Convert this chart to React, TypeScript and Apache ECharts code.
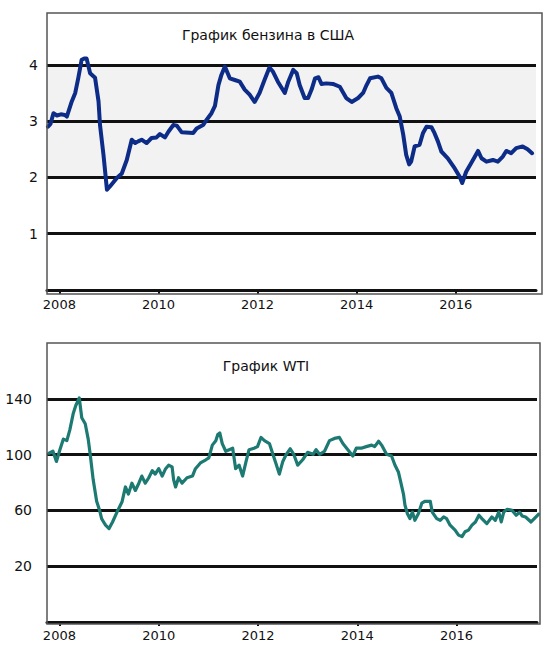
import React, { useEffect, useRef } from "react";
import * as echarts from "echarts";

// ---- Data ----
const gasYears = [
  2007.77, 2007.82, 2007.88, 2007.95, 2008.03, 2008.11, 2008.15, 2008.25, 2008.32, 2008.38,
  2008.45, 2008.5, 2008.55, 2008.62, 2008.72, 2008.79, 2008.82, 2008.89, 2008.96, 2009.02,
  2009.16, 2009.26, 2009.36, 2009.46, 2009.53, 2009.59, 2009.66, 2009.76, 2009.86, 2009.96,
  2010.03, 2010.13, 2010.2, 2010.3, 2010.37, 2010.47, 2010.7, 2010.77, 2010.9, 2010.97,
  2011.07, 2011.14, 2011.21, 2011.27, 2011.34, 2011.44, 2011.54, 2011.64, 2011.74, 2011.84,
  2011.94, 2012.04, 2012.14, 2012.24, 2012.31, 2012.41, 2012.55, 2012.62, 2012.72, 2012.79,
  2012.85, 2012.95, 2013.02, 2013.09, 2013.16, 2013.23, 2013.29, 2013.39, 2013.52, 2013.66,
  2013.79, 2013.9, 2014.03, 2014.13, 2014.2, 2014.27, 2014.43, 2014.5, 2014.6, 2014.7,
  2014.8, 2014.87, 2014.94, 2015.0, 2015.06, 2015.1, 2015.17, 2015.27, 2015.34, 2015.41,
  2015.51, 2015.57, 2015.64, 2015.71, 2015.84, 2015.98, 2016.08, 2016.13, 2016.21, 2016.31,
  2016.45, 2016.52, 2016.62, 2016.75, 2016.85, 2016.95, 2017.02, 2017.12, 2017.22, 2017.35,
  2017.45, 2017.54,
];
const gasPrices = [
  2.9, 2.95, 3.14, 3.1, 3.12, 3.11, 3.08, 3.35, 3.5, 3.76,
  4.09, 4.11, 4.11, 3.85, 3.77, 3.35, 2.93, 2.4, 1.78, 1.84,
  1.99, 2.07, 2.31, 2.67, 2.61, 2.64, 2.67, 2.61, 2.7, 2.71,
  2.77, 2.71, 2.81, 2.93, 2.92, 2.8, 2.79, 2.87, 2.93, 3.02,
  3.14, 3.27, 3.64, 3.82, 3.97, 3.76, 3.73, 3.7, 3.56, 3.47,
  3.34, 3.5, 3.73, 3.95, 3.88, 3.7, 3.5, 3.7, 3.91, 3.85,
  3.64, 3.41, 3.41, 3.56, 3.76, 3.78, 3.66, 3.67, 3.66, 3.61,
  3.41, 3.34, 3.41, 3.5, 3.64, 3.76, 3.79, 3.76, 3.59, 3.5,
  3.23, 3.08, 2.76, 2.4, 2.23, 2.28, 2.55, 2.58, 2.79, 2.9,
  2.89, 2.79, 2.64, 2.46, 2.34, 2.16, 2.01, 1.9, 2.1, 2.25,
  2.47, 2.34, 2.28, 2.31, 2.28, 2.37, 2.47, 2.43, 2.52, 2.55,
  2.5, 2.43,
];

const wtiYears = [
  2007.79, 2007.87, 2007.94, 2008.01, 2008.08, 2008.15, 2008.21, 2008.28, 2008.33, 2008.4,
  2008.45, 2008.52, 2008.58, 2008.62, 2008.68, 2008.75, 2008.81, 2008.85, 2008.89, 2008.93,
  2009.0, 2009.07, 2009.16, 2009.26, 2009.33, 2009.39, 2009.46, 2009.53, 2009.6, 2009.66,
  2009.73, 2009.8, 2009.87, 2009.93, 2010.0, 2010.07, 2010.14, 2010.2, 2010.27, 2010.3,
  2010.34, 2010.4, 2010.47, 2010.57, 2010.68, 2010.74, 2010.84, 2010.95, 2011.01, 2011.08,
  2011.15, 2011.19, 2011.23, 2011.28, 2011.35, 2011.42, 2011.49, 2011.55, 2011.62, 2011.69,
  2011.76, 2011.82, 2011.92, 2011.99, 2012.06, 2012.13, 2012.23, 2012.3, 2012.36, 2012.43,
  2012.5, 2012.57, 2012.65, 2012.72, 2012.8, 2012.9, 2013.0, 2013.11, 2013.17, 2013.24,
  2013.34, 2013.44, 2013.54, 2013.64, 2013.71, 2013.81, 2013.91, 2013.98, 2014.08, 2014.18,
  2014.29, 2014.35, 2014.43, 2014.49, 2014.59, 2014.69, 2014.76, 2014.83, 2014.88, 2014.93,
  2014.96, 2015.01, 2015.06, 2015.11, 2015.16, 2015.23, 2015.3, 2015.36, 2015.47, 2015.51,
  2015.6, 2015.67, 2015.74, 2015.8, 2015.87, 2015.97, 2016.04, 2016.11, 2016.17, 2016.24,
  2016.31, 2016.38, 2016.45, 2016.51, 2016.61, 2016.71, 2016.78, 2016.85, 2016.9, 2016.95,
  2017.02, 2017.12, 2017.2, 2017.27, 2017.32, 2017.39, 2017.5, 2017.6, 2017.65,
];
const wtiPrices = [
  101, 102.4, 95.1, 103.5, 111.1, 110, 117.7, 129.7, 135.2, 140.6,
  126.4, 122.1, 111.1, 100.2, 82.1, 66.5, 60, 54.1, 51.7, 49.4,
  47, 51.7, 58.8, 66, 76.8, 71.7, 79.5, 74.3, 79.5, 84.6,
  79.5, 83.4, 88.5, 86, 89.9, 84.6, 89.9, 92.4, 91.2, 82.1,
  76.8, 83.4, 79.5, 83.4, 84.6, 89.9, 94, 96.3, 97.7, 106.8,
  110, 114.4, 115.5, 107.9, 102.4, 103.5, 104.6, 89.9, 92.4, 84.6,
  95.1, 103.5, 104.6, 105.7, 112.3, 110, 107.9, 100.2, 93.8, 86,
  95.1, 100.2, 104.2, 100.2, 92.4, 96.3, 101.6, 100.2, 103.5, 100.2,
  102.4, 110, 111.6, 112.3, 107.9, 103.5, 99, 104.6, 104.6, 105.7,
  106.8, 105.7, 109.6, 106.8, 100.2, 99, 92.4, 87.3, 79.5, 71.7,
  63.9, 57.6, 54.1, 58.8, 52.9, 57.6, 65.2, 66.5, 66.5, 58.8,
  54.1, 52.9, 55.3, 54.1, 49.4, 45.9, 42.3, 41.2, 44.7, 45.9,
  49.4, 51.7, 56.5, 54.1, 50.5, 55.3, 52.9, 58.8, 51.7, 58.8,
  60.8, 60, 56.5, 58.8, 56, 55.3, 51.7, 55.3, 57.2,
];

const yearTicks = [2008, 2010, 2012, 2014, 2016];
const gasTicks = [1, 2, 3, 4];
const gasBand = [2, 4];
const wtiTicks = [20, 60, 100, 140];
const gasTitle = "График бензина в США";
const wtiTitle = "График WTI";

const FONT = "DejaVu Sans";

export default function App() {
  const ref = useRef<HTMLDivElement>(null);

  useEffect(() => {
    if (!ref.current) return;
    const chart = echarts.init(ref.current, undefined, { renderer: "svg" });

    const xAxisBase = (gridIndex: number, margin: number) => ({
      gridIndex,
      type: "value",
      min: 2007.75,
      max: 2017.62,
      axisLine: { show: true, onZero: false, lineStyle: { color: "#111", width: 3 } },
      axisTick: {
        show: true,
        customValues: yearTicks,
        length: 4,
        inside: false,
        lineStyle: { color: "#111", width: 2 },
      },
      axisLabel: {
        customValues: yearTicks,
        color: "#111",
        fontSize: 13,
        fontFamily: FONT,
        margin,
        formatter: (v: number) => String(v),
      },
      splitLine: { show: false },
    });

    const gridMark = (vals: number[]) => ({
      silent: true,
      symbol: "none",
      label: { show: false },
      lineStyle: { color: "#111", width: 3, type: "solid", opacity: 1 },
      data: vals.map((v) => ({ yAxis: v })),
    });

    const option: any = {
      animation: false,
      textStyle: { fontFamily: FONT },
      grid: [
        { left: 47, top: 13, width: 489, height: 277 },
        { left: 47, top: 343, width: 490, height: 279 },
      ],
      xAxis: [xAxisBase(0, 8), xAxisBase(1, 7)],
      yAxis: [
        {
          gridIndex: 0,
          type: "value",
          min: 0,
          max: 4.92,
          axisLine: { show: false },
          axisTick: { show: false },
          splitLine: { show: false },
          axisLabel: {
            customValues: gasTicks,
            color: "#111",
            fontSize: 14,
            fontFamily: FONT,
            margin: 9,
          },
        },
        {
          gridIndex: 1,
          type: "value",
          min: -20,
          max: 180,
          axisLine: { show: false },
          axisTick: { show: false },
          splitLine: { show: false },
          axisLabel: {
            customValues: wtiTicks,
            color: "#111",
            fontSize: 14,
            fontFamily: FONT,
            margin: 15,
          },
        },
      ],
      series: [
        {
          type: "line",
          xAxisIndex: 0,
          yAxisIndex: 0,
          data: [],
          z: 1,
          markArea: {
            silent: true,
            itemStyle: { color: "#f2f2f2" },
            data: [[{ yAxis: gasBand[0] }, { yAxis: gasBand[1] }]],
          },
          markLine: gridMark(gasTicks),
        },
        {
          type: "line",
          xAxisIndex: 0,
          yAxisIndex: 0,
          z: 5,
          showSymbol: false,
          data: gasYears.map((y, i) => [y, gasPrices[i]]),
          lineStyle: { color: "#0c2c87", width: 4, cap: "round", join: "round" },
        },
        {
          type: "line",
          xAxisIndex: 1,
          yAxisIndex: 1,
          data: [],
          z: 1,
          markLine: gridMark(wtiTicks),
        },
        {
          type: "line",
          xAxisIndex: 1,
          yAxisIndex: 1,
          z: 5,
          showSymbol: false,
          data: wtiYears.map((y, i) => [y, wtiPrices[i]]),
          lineStyle: { color: "#1c7a73", width: 3.2, cap: "round", join: "round" },
        },
      ],
      graphic: [
        {
          type: "rect",
          shape: { x: 47, y: 13, width: 495, height: 281 },
          style: { fill: "none", stroke: "#555", lineWidth: 1.5 },
          silent: true,
          z: 10,
        },
        {
          type: "rect",
          shape: { x: 47, y: 343, width: 493, height: 281 },
          style: { fill: "none", stroke: "#555", lineWidth: 1.5 },
          silent: true,
          z: 10,
        },
        {
          type: "text",
          x: 268,
          y: 35,
          style: {
            text: gasTitle,
            fill: "#111",
            font: `14px "${FONT}"`,
            textAlign: "center",
            textVerticalAlign: "middle",
          },
          z: 10,
        },
        {
          type: "text",
          x: 266,
          y: 366,
          style: {
            text: wtiTitle,
            fill: "#111",
            font: `14px "${FONT}"`,
            textAlign: "center",
            textVerticalAlign: "middle",
          },
          z: 10,
        },
      ],
    };

    chart.setOption(option);
    return () => chart.dispose();
  }, []);

  return (
    <div
      ref={ref}
      style={{ position: "absolute", left: 0, top: 0, width: 550, height: 648, background: "#fff" }}
    />
  );
}
